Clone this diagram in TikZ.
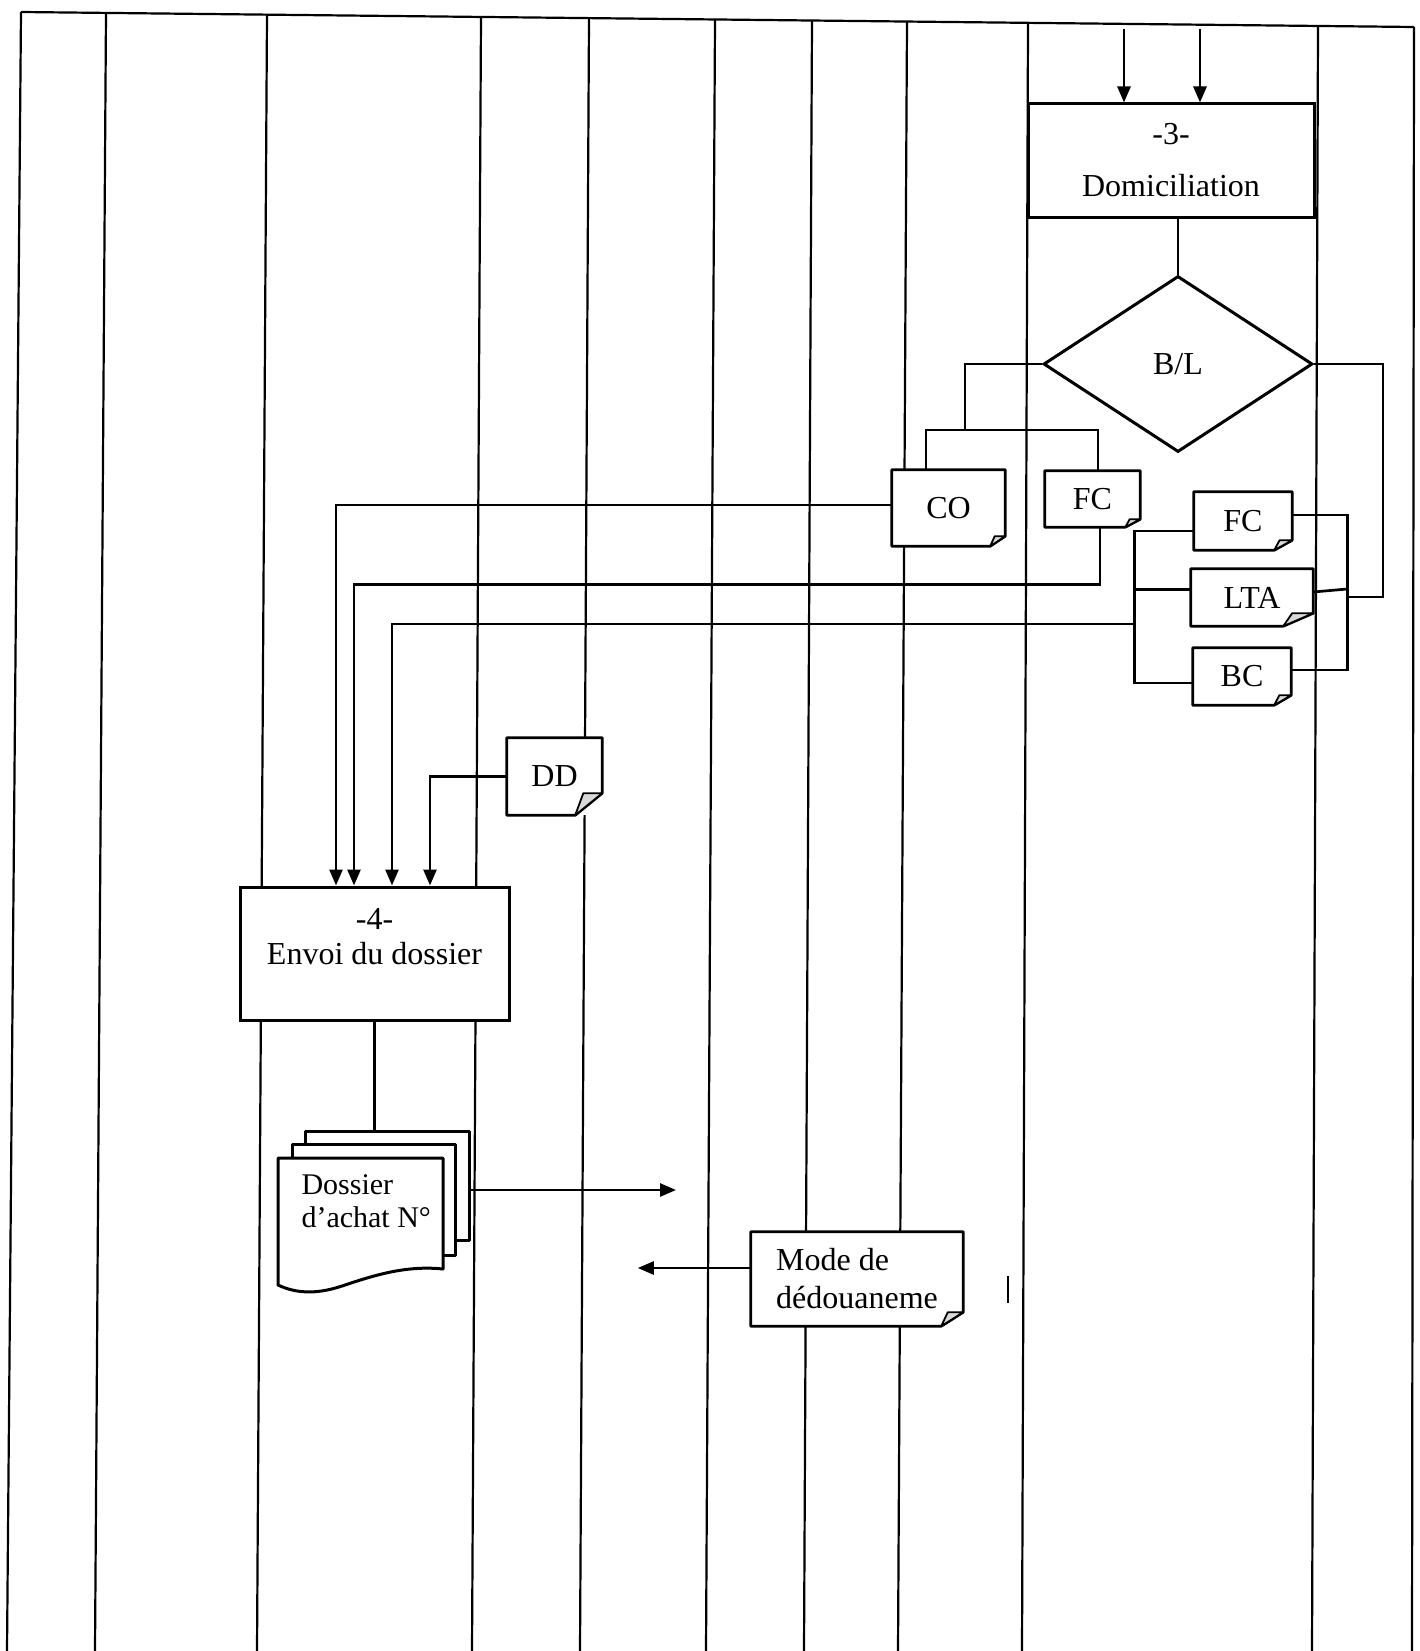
\documentclass[tikz,border=0pt]{standalone}
\usepackage{fontspec}
\setmainfont{Liberation Serif}
\usepackage{tikz}
\usetikzlibrary{positioning, arrows.meta, shapes.geometric}

\newcommand{\diagfont}{\fontsize{32}{38}\selectfont}
% outline of a sheet with folded bottom-right corner, drawn round a node
\newcommand{\foldcorner}[3]{%
  \draw[line width=2.8pt, line join=round] (#1.north west) -- (#1.north east) -- ([yshift=#3]#1.south east) -- ([xshift=-#2]#1.south east) -- (#1.south west) -- cycle;
  \draw[line width=1.8pt, line join=round, fill=gray!30] ([xshift=-#2]#1.south east) -- ([xshift=-0.7*#2, yshift=#3]#1.south east) -- ([yshift=#3]#1.south east) -- cycle;
}

\begin{document}
\begin{tikzpicture}[x=1pt, y=-1pt,
    lane/.style={line width=2.2pt},
    procbox/.style={draw, fill=white, line width=3pt, inner sep=0pt, align=center, font=\diagfont},
    docbox/.style={fill=white, inner sep=0pt, align=center, font=\diagfont},
    decision/.style={diamond, draw, fill=white, line width=3pt, inner sep=0pt, aspect=1.53, font=\diagfont},
    sheet/.style={draw, fill=white, line width=3pt, line join=round},
    link/.style={line width=2.7pt},
    arrow/.style={link, -{Triangle[length=16pt, width=13pt]}}
]
\useasboundingbox (0,0) rectangle (1419,1651);
\fill[white] (0,0) rectangle (1419,1651);

% swim lanes
\draw[lane] (21,12) -- (1414,27);
\foreach \xt/\yt/\xb in {21/12/7, 106/13/95, 267/14.5/257, 481/17/472, 589/18/580, 715/19.5/706, 812/20.5/804, 907/21.5/898, 1028/23/1022, 1318/26/1312, 1414/27/1412}
  \draw[lane] (\xt,\yt) -- (\xb,1651);

% steps
\node[procbox, minimum width=286pt, minimum height=113pt] (dom) at (1171,160.5) {-3-\\[14pt]Domiciliation};
\node[decision, minimum width=269pt, minimum height=176pt] (bl) at (1178,364) {B/L};
\node[procbox, minimum width=269pt, minimum height=133pt] (envoi) at (374.5,953.5) {};
\node[font=\diagfont, align=center] (envoiT) at (374.5,937) {-4-\\[-3pt]Envoi du dossier};

% documents
\node[docbox, minimum width=113pt, minimum height=76pt] (co) at (948.5,508) {CO};
\node[docbox, minimum width=95pt, minimum height=56pt] (fc1) at (1092.5,499) {FC};
\node[docbox, minimum width=98pt, minimum height=58pt] (fc2) at (1243,521) {FC};
\node[docbox, minimum width=122pt, minimum height=57pt] (lta) at (1252,597.5) {LTA};
\node[docbox, minimum width=98pt, minimum height=57pt] (bc) at (1242,676.5) {BC};
\node[docbox, minimum width=95pt, minimum height=77pt] (dd) at (554.5,776.5) {DD};
\node[docbox, align=left, minimum width=212pt, minimum height=94pt] (mode) at (857,1279) {Mode de\\dédouaneme};
\foldcorner{co}{15pt}{10pt}
\foldcorner{fc1}{15pt}{8pt}
\foldcorner{fc2}{18pt}{10pt}
\foldcorner{lta}{30pt}{13pt}
\foldcorner{bc}{17pt}{10pt}
\foldcorner{dd}{27pt}{22pt}
\foldcorner{mode}{22pt}{14pt}

% dossier stack
\draw[sheet] (305,1131) rectangle (469,1240);
\draw[sheet] (292,1144) rectangle (455,1255);
\draw[sheet] (278,1158) -- (443,1158) -- (443,1269) .. controls (405,1265) and (372,1276) .. (342,1286) .. controls (315,1295) and (295,1293) .. (278,1285) -- cycle;
\node[font=\fontsize{30}{36}\selectfont, align=left, anchor=west] (dossier) at (298,1201.5) {Dossier\\[-3pt]d’achat N°};
\coordinate (stacktop) at (373,1131);
\coordinate (stackout) at (469,1190);

% flows
\coordinate (in1) at (1124,29);
\coordinate (in2) at (1200,29);
\draw[arrow] (in1) -- (in1 |- dom.north);
\draw[arrow] (in2) -- (in2 |- dom.north);
\draw[link] (bl.north |- dom.south) -- (bl.north);

\coordinate (split) at (965,430);
\draw[link] (bl.west) -| (split);
\draw[link] ([xshift=-22.5pt]co.north) |- (split) -| ([xshift=5.5pt]fc1.north);

\draw[link] (bl.east) -| (1383,597) -- (1347,597);
\draw[link] ([yshift=6pt]fc2.east) -- ++(55,0) |- ([yshift=6.5pt]bc.east);
\draw[link] ([yshift=5.5pt]lta.east) -- ++(34,-3);
\draw[link] ([yshift=-10pt]fc2.west) -- ++(-59,0) |- ([yshift=-6.5pt]bc.west);
\draw[link] ([yshift=8pt]lta.west) -- ++(-56,0);
\coordinate (lbus) at (1135,624);

\draw[arrow] ([yshift=3pt]co.west) -| ([xshift=-38.5pt]envoi.north);
\draw[arrow] ([xshift=7.5pt]fc1.south) -- ++(0,57) -| ([xshift=-20.5pt]envoi.north);
\draw[arrow] (lbus) -| ([xshift=17.5pt]envoi.north);
\draw[arrow] (dd.west) -| ([xshift=55.5pt]envoi.north);

\draw[link] (envoi.south) -- (envoi.south |- stacktop);
\draw[arrow] (stackout) -- ++(207,0);
\draw[arrow] ([yshift=11pt]mode.west) -- ++(-113,0);
\draw[line width=2.2pt] (1008,1276) -- (1008,1303);
\end{tikzpicture}
\end{document}
